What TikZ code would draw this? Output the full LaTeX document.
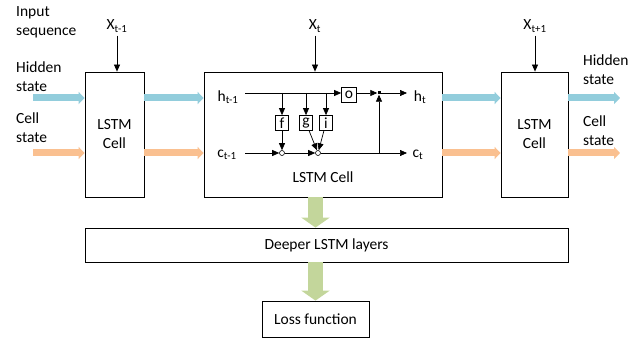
\documentclass[tikz,border=0pt]{standalone}
\usepackage{fontspec}
\setmainfont{Carlito}
\usetikzlibrary{arrows.meta}
\definecolor{hidblue}{RGB}{146,205,220}
\definecolor{celorange}{RGB}{250,192,144}
\definecolor{deepgreen}{RGB}{195,214,155}
\tikzset{
  box/.style={draw, line width=0.8pt, inner sep=0pt, align=center},
  gate/.style={draw, line width=0.7pt, minimum width=13pt, minimum height=15pt, inner sep=0pt},
  mult/.style={draw, circle, line width=0.6pt, fill=white, inner sep=0pt, minimum size=5pt},
  arr/.style={line width=0.7pt, -{Triangle[length=7pt,width=6pt]}},
  hid/.style={hidblue, line width=7pt, -{Triangle[length=6pt,width=12pt]}},
  cel/.style={celorange, line width=7pt, -{Triangle[length=6pt,width=12pt]}},
  deep/.style={deepgreen, line width=15pt, -{Triangle[length=10pt,width=28pt]}},
  lbl/.style={inner sep=0pt, align=left, anchor=west}
}
\begin{document}
\begin{tikzpicture}[x=1pt, y=-1pt, font=\fontsize{15.5}{19}\selectfont]
\useasboundingbox (0,0) rectangle (640,339);
%Cells
\node[box, minimum width=59pt, minimum height=125pt] (cellA) at (114.5,134.5) {LSTM\\Cell};
\node[box, minimum width=238pt, minimum height=125pt] (cellB) at (323,134.5) {};
\node[box, minimum width=67pt, minimum height=125pt] (cellC) at (534.5,134.5) {LSTM\\Cell};
\node[box, minimum width=483pt, minimum height=34pt] (deeper) at (326.5,245) {Deeper LSTM layers};
\node[box, minimum width=107pt, minimum height=36pt] (loss) at (315.5,319) {Loss function};
%Inputs
\node (xa) at (117,26) {X\textsubscript{t-1}};
\node (xb) at (315,26) {X\textsubscript{t}};
\node (xc) at (535,26) {X\textsubscript{t+1}};
\draw[arr] (xa) -- (xa |- cellA.north);
\draw[arr] (xb) -- (xb |- cellB.north);
\draw[arr] (xc) -- (xc |- cellC.north);
%States
\coordinate (hin) at (33,98);
\coordinate (cin) at (33,153);
\coordinate (hout) at (620,98);
\coordinate (cout) at (620,153);
\draw[hid] (hin) -- (cellA.west |- hin);
\draw[hid] (cellA.east |- hin) -- (cellB.west |- hin);
\draw[hid] (cellB.east |- hin) -- (cellC.west |- hin);
\draw[hid] (cellC.east |- hin) -- (hout);
\draw[cel] (cin) -- (cellA.west |- cin);
\draw[cel] (cellA.east |- cin) -- (cellB.west |- cin);
\draw[cel] (cellB.east |- cin) -- (cellC.west |- cin);
\draw[cel] (cellC.east |- cin) -- (cout);
\draw[deep] (loss.north |- cellB.south) -- (loss.north |- deeper.north);
\draw[deep] (loss.north |- deeper.south) -- (loss.north);
%Inside the cell
\node (hp) at (228,97) {h\textsubscript{t-1}};
\node (cp) at (227,155) {c\textsubscript{t-1}};
\node (hn) at (420,97) {h\textsubscript{t}};
\node (cn) at (418,155) {c\textsubscript{t}};
\node at (323,177) {LSTM Cell};
\coordinate (hs) at (245,93);
\coordinate (cs) at (245,153);
\coordinate (he) at (407,93);
\coordinate (ce) at (407,153);
\coordinate (cx) at (379,153);
\node[gate] (f) at (282,123) {f};
\node[gate] (g) at (306,123) {g};
\node[gate] (i) at (326,123) {i};
\node[gate, minimum width=15pt, minimum height=15pt] (o) at (349,95) {o};
\node[mult] (m1) at (282,153) {};
\node[mult] (m2) at (318,153) {};
\node[fill, inner sep=0pt, minimum size=3pt] (jn) at (379,93) {};
\draw[arr] (hs) -- (o.west |- hs);
\draw[arr] (f |- hs) -- (f);
\draw[arr] (g |- hs) -- (g);
\draw[arr] (i |- hs) -- (i);
\draw[arr] (o.east |- jn) -- (jn);
\draw[arr] (jn) -- (he);
\draw[arr] (cs) -- (m1);
\draw[arr] (m1) -- (m2);
\draw[arr] (m2) -- (ce);
\draw[arr] (f) -- (m1);
\draw[arr] (g) -- (m2);
\draw[arr] (i) -- (m2);
\draw[arr] (cx) -- (jn);
%Text
\node[lbl] (inp) at (16,22.5) {Input\\sequence};
\node[lbl] (hl) at (16,76.5) {Hidden\\state};
\node[lbl] (cl) at (16,127.5) {Cell\\state};
\node[lbl] (hr) at (583,69.5) {Hidden\\state};
\node[lbl] (cr) at (583,130.5) {Cell\\state};
\end{tikzpicture}
\end{document}
